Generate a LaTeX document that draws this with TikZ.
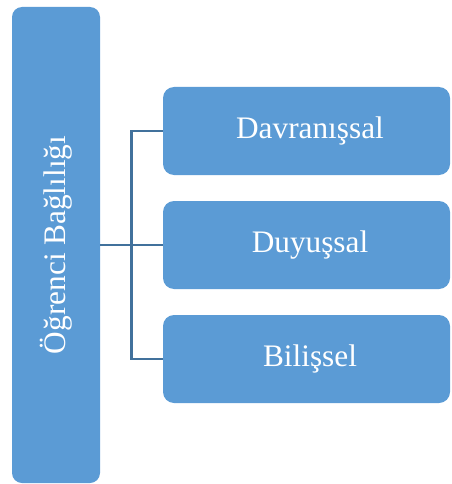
\documentclass[tikz,border=0pt]{standalone}
\usepackage{fontspec}
\setmainfont{Liberation Serif}
\definecolor{boxblue}{HTML}{5B9BD5}
\definecolor{linkblue}{HTML}{41719C}
\tikzset{
  bluebox/.style={rectangle, fill=boxblue, draw=none, rounded corners=11pt, inner sep=0pt},
  boxtext/.style={text=white, font=\fontsize{31.3}{36}\selectfont, inner sep=0pt},
  link/.style={draw=linkblue, line width=2.2pt}
}
\begin{document}
\begin{tikzpicture}[x=1pt,y=-1pt]
\useasboundingbox (0,0) rectangle (451,484);
\node[bluebox, minimum width=88pt, minimum height=476pt, rounded corners=10pt] (L) at (56,245) {};
\node[boxtext, rotate=90] (Lt) at (L.center) {Öğrenci Bağlılığı};
\node[bluebox, minimum width=287pt, minimum height=88pt] (a) at (306.5,131) {};
\node[boxtext, xshift=3.5pt] (at) at (a.center) {Davranışsal};
\node[bluebox, minimum width=287pt, minimum height=88pt] (b) at (306.5,245) {};
\node[boxtext, xshift=3.5pt] (bt) at (b.center) {Duyuşsal};
\node[bluebox, minimum width=287pt, minimum height=88pt] (c) at (306.5,359) {};
\node[boxtext, xshift=3.5pt] (ct) at (c.center) {Bilişsel};
\coordinate (j) at (131.5,245);
\draw[link] (L.east) -- (b.west);
\draw[link] (a.west) -| (j) |- (c.west);
\end{tikzpicture}
\end{document}
